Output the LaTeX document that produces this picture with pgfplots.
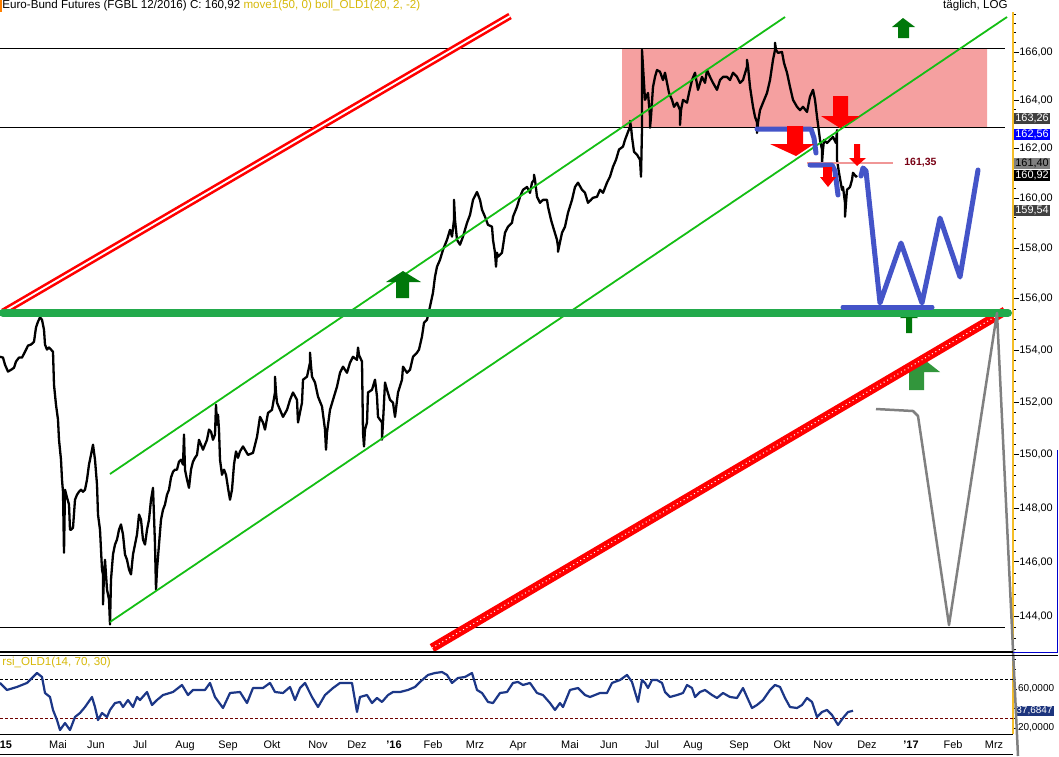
\documentclass[border=0pt]{standalone}
\usepackage{fontspec}
\setmainfont{Liberation Sans}
\usepackage{pgfplots}
\usepackage{pgfplotstable}
\pgfplotsset{compat=1.18}

\definecolor{axyellow}{RGB}{245,190,40}
\definecolor{titley}{RGB}{215,185,10}
\definecolor{pinkbox}{RGB}{245,160,160}
\definecolor{chgreen}{RGB}{20,190,20}
\definecolor{hgreen}{RGB}{34,170,76}
\definecolor{arrgreen}{RGB}{0,120,10}
\definecolor{arrgreen2}{RGB}{50,150,60}
\definecolor{wblue}{RGB}{68,84,200}
\definecolor{rsiblue}{RGB}{28,55,135}
\definecolor{darkred}{RGB}{120,0,20}
\definecolor{pinkline}{RGB}{240,150,150}
\definecolor{boxgray}{RGB}{64,64,64}
\definecolor{midgray}{RGB}{128,128,128}
\definecolor{rsibox}{RGB}{28,52,125}
\definecolor{dred}{RGB}{110,0,0}

\newcommand{\fs}{\fontsize{5.25}{6}\selectfont}
\newcommand{\fss}{\fontsize{5}{6}\selectfont}
\newcommand{\fst}{\fontsize{5.8}{7}\selectfont}
\newcommand{\fsp}{\fontsize{5.45}{6.5}\selectfont}

\pgfplotstableread{
x p
0 153.74
3 153.70
5 153.43
8 153.16
11 153.23
14 153.31
16 153.55
19 153.70
22 153.70
25 153.93
28 154.17
31 154.21
34 154.32
36 154.87
38 155.10
40 155.26
42 155.18
44 154.79
45 154.21
47 154.01
49 154.09
51 154.01
53 153.93
54 152.66
56 151.89
58 151.32
59 150.56
61 149.80
62 149.05
63 148.60
64 146.34
65 148.68
67 148.38
69 148.12
70 147.19
71 147.19
73 147.26
75 148.30
77 148.49
79 148.60
81 148.68
83 148.60
85 148.68
87 149.05
89 149.62
91 149.99
93 150.37
95 149.80
97 148.87
98 147.75
100 147.19
102 145.72
103 145.54
103 144.44
104 145.54
105 146.08
107 144.99
109 144.62
110 143.72
111 145.35
113 146.27
115 146.64
117 146.82
119 147.19
121 147.38
123 147.01
125 146.27
127 146.08
129 145.72
131 145.54
133 146.27
135 146.64
137 147.01
139 147.75
141 147.56
143 146.82
145 146.64
147 147.19
149 147.56
151 148.30
153 148.75
155 146.64
156 144.99
157 145.72
159 146.64
161 147.56
163 147.93
165 148.12
167 148.49
169 148.68
171 149.13
173 149.35
175 149.43
177 149.43
179 149.73
181 149.80
183 149.62
184 150.75
185 149.43
187 149.05
189 148.75
191 149.43
193 149.73
195 149.88
197 149.99
199 150.56
201 150.37
203 150.18
205 150.37
207 150.56
209 150.94
211 150.86
213 150.56
215 150.75
216 151.89
217 151.13
218 151.51
219 150.94
220 149.80
222 149.24
224 149.43
226 149.24
228 148.75
230 148.30
232 148.68
234 149.62
236 150.11
238 149.88
240 150.11
243 150.30
248 149.99
253 150.07
257 150.67
260 151.43
263 151.21
265 150.94
268 151.58
272 151.70
275 152.36
275 152.97
276 152.36
277 151.97
280 151.70
283 151.43
287 151.70
290 152.08
293 152.36
297 152.08
298 151.21
302 151.97
303 152.85
307 152.97
310 153.51
310 153.90
311 153.40
312 152.97
315 152.74
318 152.20
322 151.82
325 150.94
326 150.18
327 150.83
330 151.70
333 152.08
337 152.59
340 153.12
343 153.35
347 153.12
350 153.51
353 153.74
357 153.62
358 154.09
359 153.80
362 153.55
363 150.83
364 150.30
365 150.94
367 151.21
368 152.36
372 152.47
375 152.85
377 152.20
378 151.43
382 151.21
382 150.56
383 151.21
385 152.74
387 152.47
390 152.08
393 151.97
395 151.43
398 152.36
402 152.85
403 153.35
407 153.12
410 153.23
413 153.74
417 153.90
419 154.01
422 154.52
424 155.06
427 155.18
430 155.69
433 156.24
435 156.86
437 157.26
440 157.54
443 157.93
447 158.33
450 158.73
452 158.45
454 159.13
454 159.93
455 159.13
457 158.33
460 158.13
463 158.45
467 159.01
470 159.33
473 159.93
477 160.25
480 159.93
482 159.53
485 159.25
488 158.93
492 158.85
493 158.33
495 157.82
496 157.26
497 157.82
498 157.66
502 157.82
505 158.61
508 158.85
512 159.01
513 159.25
517 159.65
520 160.05
523 160.33
527 160.45
530 160.21
532 160.62
534 160.74
534 160.94
535 160.74
537 160.05
540 159.81
543 159.93
547 159.93
548 159.65
551 159.13
553 158.85
557 158.33
558 158.05
558 157.85
559 158.05
562 158.61
565 158.85
568 159.41
572 159.93
575 160.45
578 160.62
582 160.33
585 160.21
588 159.81
591 159.93
593 160.01
597 160.05
600 160.33
603 160.21
607 160.62
610 160.86
613 161.27
616 161.55
619 161.96
623 162.08
625 162.36
628 162.69
630 162.90
630 163.14
631 162.90
632 162.49
634 161.88
637 161.76
640 161.55
641 160.86
642 162.82
642 166.08
645 164.01
648 164.30
650 163.31
650 162.86
651 163.31
653 164.55
655 164.96
657 165.25
660 165.17
663 164.83
665 165.12
667 164.71
669 164.30
672 164.01
674 163.72
677 163.89
680 163.59
680 162.98
681 163.59
683 164.01
687 163.89
689 164.30
692 164.83
695 165.12
698 164.42
702 164.96
705 164.71
707 165.25
710 164.96
713 164.71
717 164.42
720 164.83
723 164.96
727 164.96
730 164.83
733 165.12
737 164.96
740 164.71
743 164.83
747 165.38
747 165.67
748 165.38
750 164.55
753 163.72
755 163.31
757 163.06
757 162.65
758 163.06
760 163.59
763 163.89
767 164.30
770 164.83
773 165.67
775 166.08
775 166.38
776 166.08
778 165.96
782 166.00
784 165.54
787 165.12
790 164.55
793 164.01
797 163.72
800 163.59
803 163.72
807 163.51
810 164.13
813 164.42
815 164.01
817 163.31
820 162.36
822 161.96
822 161.43
823 161.96
824 162.36
827 162.24
830 162.36
833 162.49
836 162.24
837 162.77
837 161.55
839 161.02
842 160.33
843 160.45
845 159.81
845 159.25
846 159.81
847 160.33
850 160.45
852 160.74
853 161.02
856 160.86
857 160.92
}\pricedata

\pgfplotstableread{
x r
0 66.2
7 59.0
17 62.1
27 66.2
33 72.3
37 76.4
42 72.3
45 55.9
50 51.8
53 38.5
57 28.2
60 17.9
65 25.1
70 17.9
75 31.3
80 35.4
85 41.5
92 51.8
95 41.5
98 28.2
102 35.4
107 31.3
110 38.5
115 45.6
120 46.7
123 41.5
128 48.7
133 41.5
137 51.8
140 48.7
147 56.9
152 43.6
157 48.7
163 53.8
173 56.9
182 64.1
188 53.8
193 59.0
200 59.0
205 59.0
210 66.2
215 51.8
223 40.5
230 55.9
240 56.9
247 45.6
253 61.0
263 61.0
270 66.2
275 56.9
283 55.9
290 62.1
295 48.7
300 61.0
305 66.2
312 51.8
318 41.5
325 53.8
333 61.0
340 66.2
352 66.2
357 36.4
360 51.8
367 53.8
372 45.6
377 50.8
382 46.7
388 53.8
393 56.9
400 56.9
408 59.0
415 62.1
420 67.2
428 74.4
435 76.4
442 77.4
447 74.4
452 66.2
458 71.3
465 72.3
472 76.4
477 59.0
482 55.9
488 46.7
493 45.6
500 55.9
507 56.9
513 66.2
518 67.2
523 64.1
530 66.2
537 55.9
543 53.8
550 45.6
555 38.5
560 45.6
563 41.5
570 59.0
578 61.0
585 53.8
590 51.8
600 55.9
607 55.9
612 66.2
620 69.2
627 74.4
632 67.2
635 56.9
638 46.7
642 69.2
645 66.2
648 61.0
652 69.2
657 69.2
662 66.2
665 56.9
670 51.8
677 53.8
683 55.9
687 64.1
692 61.0
695 51.8
700 56.9
705 59.0
712 53.8
717 50.8
723 55.9
730 51.8
737 50.8
743 61.0
747 51.8
752 40.5
757 43.6
763 48.7
770 59.0
775 64.1
780 62.1
785 50.8
790 41.5
797 40.5
802 43.6
807 50.8
812 46.7
817 31.3
822 36.4
827 38.5
832 33.3
838 23.1
843 30.3
848 36.4
853 37.68
}\rsidata

\begin{document}
\begin{tikzpicture}[font=\fs]
\useasboundingbox (0,0) rectangle (529.5pt,378pt);
\fill[white] (0,0) rectangle (529.5pt,378pt);

% ---------- background annotations (pixel frame) ----------
\begin{axis}[at={(0pt,52pt)}, anchor=south west, width=506.5pt, height=320pt,
  scale only axis, xmin=0, xmax=1013, ymin=12, ymax=652, y dir=reverse,
  hide axis, clip=false]
\addplot[fill=pinkbox, draw=none] coordinates {(622,48) (987,48) (987,127) (622,127) (622,48)};
\addplot[black, line width=0.5pt] coordinates {(0,48) (1005,48)};
\addplot[black, line width=0.5pt] coordinates {(0,127) (1005,127)};
\addplot[black, line width=0.5pt] coordinates {(0,627) (1005,627)};
\end{axis}

% ---------- price panel ----------
\begin{axis}[at={(0pt,52pt)}, anchor=south west, width=506.5pt, height=320pt,
  scale only axis, xmin=0, xmax=1013, ymode=log, ymin=142.73, ymax=167.68,
  axis x line=none, axis y line*=right,
  y axis line style={draw=axyellow, line width=0.6pt},
  ytick={144,146,148,150,152,154,156,158,160,162,164,166},
  yticklabels={{144,00},{146,00},{148,00},{150,00},{152,00},{154,00},{156,00},{158,00},{160,00},{162,00},{164,00},{166,00}},
  minor ytick={142.8,143.2,143.6,144.4,144.8,145.2,145.6,146.4,146.8,147.2,147.6,148.4,148.8,149.2,149.6,150.4,150.8,151.2,151.6,152.4,152.8,153.2,153.6,154.4,154.8,155.2,155.6,156.4,156.8,157.2,157.6,158.4,158.8,159.2,159.6,160.4,160.8,161.2,161.6,162.4,162.8,163.2,163.6,164.4,164.8,165.2,165.6,166.4,166.8,167.2,167.6},
  tick align=outside, major tick length=3pt, minor tick length=1.5pt,
  tick style={black, line width=0.4pt},
  yticklabel style={font=\fsp, black, inner sep=0.5pt, xshift=-0.5pt},
  /pgf/number format/assume math mode=true]
\addplot[black, line width=1.15pt, line join=round] table[x=x, y=p] {\pricedata};
\end{axis}

% ---------- RSI panel ----------
\begin{axis}[at={(0pt,11pt)}, anchor=south west, width=506.5pt, height=40.5pt,
  scale only axis, xmin=0, xmax=1013, ymin=13.85, ymax=96.9,
  clip mode=individual,
  axis x line*=bottom, axis y line*=right,
  x axis line style={black, line width=0.5pt},
  y axis line style={draw=axyellow, line width=0.6pt},
  xtick={6,58,96,140,185,228,272,318,357,394,433,475,518,570,609,652,693,739,782,823,867,911,953,994},
  xticklabels={{\textbf{15}},Mai,Jun,Jul,Aug,Sep,Okt,Nov,Dez,{\textbf{'16}},Feb,Mrz,Apr,Mai,Jun,Jul,Aug,Sep,Okt,Nov,Dez,{\textbf{'17}},Feb,Mrz},
  xtick style={draw=none},
  xticklabel style={font=\fsp, yshift=2pt},
  ytick={20,60}, yticklabels={{20,0000},{60,0000}},
  minor ytick={30,40,50,70,80,90},
  tick align=outside, major tick length=2pt, minor tick length=1.5pt,
  ytick style={black, line width=0.4pt},
  yticklabel style={font=\fss, black, inner sep=0.3pt},
  /pgf/number format/assume math mode=true]
\addplot[black, line width=0.4pt, dash pattern=on 1.5pt off 1pt] coordinates {(0,70) (1013,70)};
\addplot[dred, line width=0.4pt, dash pattern=on 1.5pt off 1pt] coordinates {(0,30) (1013,30)};
\addplot[rsiblue, line width=1.1pt, line join=round] table[x=x, y=r] {\rsidata};
\node[anchor=west, fill=rsibox, text=white, inner sep=0.5pt, font=\fss] at (axis cs:1015,37.68) {37,6847};
\end{axis}

% ---------- overlay annotations (pixel frame) ----------
\begin{axis}[at={(0pt,52pt)}, anchor=south west, width=506.5pt, height=320pt,
  scale only axis, xmin=0, xmax=1013, ymin=12, ymax=652, y dir=reverse,
  hide axis, clip=false]
% channel lines
\addplot[chgreen, line width=0.9pt] coordinates {(110,474) (785,17)};
\addplot[chgreen, line width=0.9pt] coordinates {(110,622) (1007,17)};
% upper red double line
\addplot[red, line width=3.5pt] coordinates {(3,312) (510,16)};
\addplot[white, line width=0.9pt] coordinates {(3,312) (510,16)};
% green arrow under red line
\addplot[fill=arrgreen2, draw=none] coordinates {(909,390) (909,372) (903,372) (921,357) (940,372) (924,372) (924,390)};
% lower red line
\addplot[red, line width=4.5pt] coordinates {(432,648) (1005,311)};
\addplot[white, line width=0.5pt, dash pattern=on 0.5pt off 1.5pt] coordinates {(432,648) (1005,311)};
% small green arrow under horizontal
\addplot[fill=arrgreen, draw=none] coordinates {(906,333) (906,318) (900,318) (909,311) (918,318) (912,318) (912,333)};
% thick green horizontal
\addplot[hgreen, line width=4pt, line cap=round] coordinates {(3,313) (1008,313)};
% green arrows
\addplot[fill=arrgreen, draw=none] coordinates {(396,298) (396,282) (386,282) (403,271) (421,282) (409,282) (409,298)};
\addplot[fill=arrgreen, draw=none] coordinates {(898,38) (898,27) (892,27) (903,18) (915,27) (909,27) (909,38)};
% pink support line and label
\addplot[pinkline, line width=1pt] coordinates {(807,163) (893,163)};
\node[anchor=west, text=darkred, font=\bfseries\fs, inner sep=0pt] at (axis cs:904,163) {161,35};
% blue lines
\addplot[wblue, line width=2.5pt, line join=round, line cap=round] coordinates {(757,129) (811,129) (814,138) (816,153)};
\addplot[wblue, line width=2.5pt, line join=round, line cap=round] coordinates {(810,165) (832,165) (835,171) (838,195)};
\addplot[wblue, line width=2.5pt, line cap=round] coordinates {(843,307) (932,307)};
\addplot[wblue, line width=2.5pt, line join=round, line cap=round] coordinates {(861,176) (863,168) (866,171) (880,303) (901,243) (922,303) (940,218) (960,277) (978,170)};
% red arrows
\addplot[fill=red, draw=none] coordinates {(787,126) (803,126) (803,144) (814,144) (796,156) (770,144) (787,144)};
\addplot[fill=red, draw=none] coordinates {(833,96) (848,96) (848,116) (860,116) (840,128) (821,116) (833,116)};
\addplot[fill=red, draw=none] coordinates {(823,167) (832,167) (832,177) (836,177) (828,187) (820,177) (823,177)};
\addplot[fill=red, draw=none] coordinates {(854,144) (860,144) (860,158) (866,158) (857,166) (849,158) (854,158)};
% value boxes
\node[anchor=west, fill=boxgray, text=white, inner sep=0.5pt, font=\fsp] at (axis cs:1014,118) {163,26};
\node[anchor=west, fill=blue, text=white, inner sep=0.5pt, font=\fsp] at (axis cs:1014,134) {162,56};
\node[anchor=west, fill=midgray, text=black, inner sep=0.5pt, font=\fsp] at (axis cs:1014,163) {161,40};
\node[anchor=west, fill=black, text=white, inner sep=0.5pt, font=\fsp] at (axis cs:1014,175) {160,92};
\node[anchor=west, fill=boxgray, text=white, inner sep=0.5pt, font=\fsp] at (axis cs:1014,210) {159,54};
% gray projection line
\addplot[midgray, line width=1.25pt, line join=round] coordinates {(876,409) (913,411) (918,416) (949,625) (997,313) (1018,756)};
\end{axis}

% ---------- frame lines and texts ----------
\draw[black, line width=1pt] (0pt,52pt) -- (506.5pt,52pt);
\draw[black, line width=0.4pt] (0pt,50.5pt) -- (529pt,50.5pt);
\draw[blue!80!black, line width=0.5pt] (506.5pt,52pt) -- (528.5pt,52pt) -- (528.5pt,153pt);
\draw[black, line width=0.4pt] (0pt,1pt) -- (506.5pt,1pt);
\draw[orange, line width=0.75pt] (0.375pt,378pt) -- (0.375pt,372pt);

\node[anchor=west, inner sep=0pt, font=\fst] at (1pt,375pt) {Euro-Bund Futures (FGBL 12/2016) C: 160,92 \textcolor{titley}{move1(50, 0) boll\_OLD1(20, 2, -2)}};
\node[anchor=east, inner sep=0pt, font=\fst] at (504pt,375pt) {täglich, LOG};
\node[anchor=west, inner sep=0pt, text=titley, font=\fst] at (1pt,47pt) {rsi\_OLD1(14, 70, 30)};
\end{tikzpicture}
\end{document}
